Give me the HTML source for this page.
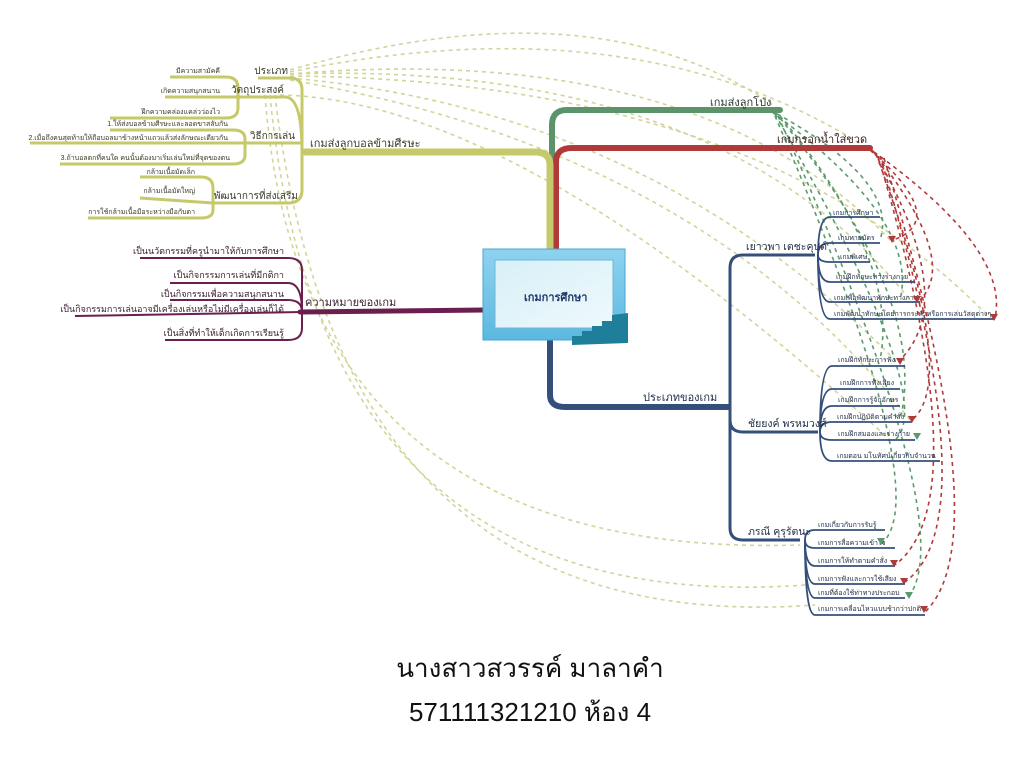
<!DOCTYPE html>
<html><head><meta charset="utf-8"><style>
html,body{margin:0;padding:0;background:#fff;}
svg{display:block;font-family:"Liberation Sans","Noto Sans CJK SC",sans-serif;}
</style></head><body>
<svg width="1024" height="768" viewBox="0 0 1024 768" xmlns="http://www.w3.org/2000/svg">
<defs>
<linearGradient id="fr" x1="0" y1="0" x2="0" y2="1"><stop offset="0" stop-color="#8fd3f0"/><stop offset="1" stop-color="#5bb8e0"/></linearGradient>
<linearGradient id="in" x1="0" y1="0" x2="1" y2="1"><stop offset="0" stop-color="#d8f0f8"/><stop offset="1" stop-color="#eef9fc"/></linearGradient>
</defs>
<!-- dashed relationship curves -->
<g fill="none" stroke-width="1.6" stroke-dasharray="4 4">
<g stroke="#d2d49a">
<path d="M290 70 Q600 -20 780 110"/>
<path d="M290 72 Q640 0 870 150"/>
<path d="M290 74 Q700 40 890 240"/>
<path d="M290 74 Q720 60 910 300"/>
<path d="M290 76 Q760 80 990 318"/>
<path d="M290 78 Q650 110 895 360"/>
<path d="M290 80 Q700 150 910 420"/>
<path d="M265 95 Q300 560 800 545"/>
<path d="M270 95 Q320 620 805 585"/>
<path d="M275 95 Q340 640 815 605"/>
<path d="M280 95 Q520 100 890 440"/>
</g>
<g stroke="#5b9a6d">
<path d="M770 110 Q900 180 880 240"/>
<path d="M772 112 Q920 220 900 300"/>
<path d="M775 112 Q930 300 900 420"/>
<path d="M775 114 Q940 400 895 440"/>
<path d="M775 116 Q940 500 880 545"/>
<path d="M778 116 Q960 520 910 595"/>
<path d="M780 116 Q900 260 880 360"/>
</g>
<g stroke="#b03a3a">
<path d="M870 150 Q950 220 893 240"/>
<path d="M872 150 Q960 260 920 300"/>
<path d="M874 152 Q1010 250 995 318"/>
<path d="M874 152 Q960 300 900 360"/>
<path d="M876 154 Q960 380 912 420"/>
<path d="M878 156 Q980 500 895 565"/>
<path d="M880 156 Q990 520 905 582"/>
<path d="M884 158 Q1000 540 925 612"/>
</g>
</g>
<!-- main branches -->
<g fill="none" stroke-linecap="round">
<path d="M552 250 L552 125 Q552 110 567 110 L780 110" stroke="#5b946a" stroke-width="6"/>
<path d="M556 250 L556 162 Q556 148 572 148 L870 148" stroke="#b0393a" stroke-width="6"/>
<path d="M550 250 L550 165 Q550 152 535 152 L305 152" stroke="#c6c96a" stroke-width="7"/>
<path d="M485 310 L300 312" stroke="#6a1f4f" stroke-width="5"/>
<path d="M550 338 L550 395 Q550 407 565 407 L728 407" stroke="#34507a" stroke-width="6"/>
</g>
<!-- yellow sub tree -->
<g fill="none" stroke="#c6c96a" stroke-width="3">
<path d="M302 152 L302 90 Q302 78 290 78 L258 78"/>
<path d="M302 152 Q302 97 285 97 L238 97"/>
<path d="M302 152 L302 143 L245 143"/>
<path d="M302 152 L302 190 Q302 203 288 203 L213 203"/>
<path d="M238 97 L238 88 Q238 77 226 77 L170 77"/>
<path d="M238 97 L165 97"/>
<path d="M238 97 L238 108 Q238 118 226 118 L110 118"/>
<path d="M245 143 L245 139 Q245 130 233 130 L110 130"/>
<path d="M245 143 L30 143"/>
<path d="M245 143 L245 155 Q245 164 233 164 L60 164"/>
<path d="M213 203 L213 188 Q213 177 201 177 L140 177"/>
<path d="M213 203 L140 198"/>
<path d="M213 203 L213 210 Q213 218 201 218 L88 218"/>
</g>
<g fill="#3a3a2a" text-anchor="end">
<text x="288" y="74" font-size="10">ประเภท</text>
<text x="284" y="93" font-size="10">วัตถุประสงค์</text>
<text x="295" y="139" font-size="10">วิธีการเล่น</text>
<text x="298" y="199" font-size="10">พัฒนาการที่ส่งเสริม</text>
<text x="220" y="73" font-size="7">มีความสามัคคี</text>
<text x="220" y="93" font-size="7">เกิดความสนุกสนาน</text>
<text x="220" y="114" font-size="7">ฝึกความคล่องแคล่วว่องไว</text>
<text x="228" y="126" font-size="7">1.ให้ส่งบอลข้ามศีรษะและลอดขาสลับกัน</text>
<text x="228" y="140" font-size="7">2.เมื่อถึงคนสุดท้ายให้ถือบอลมาข้างหน้าแถวแล้วส่งลักษณะเดียวกัน</text>
<text x="230" y="160" font-size="7">3.ถ้าบอลตกที่คนใด คนนั้นต้องมาเริ่มเล่นใหม่ที่จุดของตน</text>
<text x="195" y="174" font-size="7">กล้ามเนื้อมัดเล็ก</text>
<text x="195" y="193" font-size="7">กล้ามเนื้อมัดใหญ่</text>
<text x="195" y="214" font-size="7">การใช้กล้ามเนื้อมือระหว่างมือกับตา</text>
</g>
<text x="310" y="147" font-size="11" fill="#3a3a2a">เกมส่งลูกบอลข้ามศีรษะ</text>
<!-- purple subtree -->
<g fill="none" stroke="#6a1f4f" stroke-width="2">
<path d="M302 312 L302 270 Q302 258 288 258 L140 258"/>
<path d="M302 312 Q302 283 288 283 L170 283"/>
<path d="M302 312 Q302 300 288 300 L170 300"/>
<path d="M302 312 L75 316"/>
<path d="M302 312 L302 328 Q302 340 288 340 L165 340"/>
</g>
<g font-size="9" fill="#3a2030" text-anchor="end">
<text x="284" y="254">เป็นนวัตกรรมที่ครูนำมาให้กับการศึกษา</text>
<text x="284" y="278">เป็นกิจกรรมการเล่นที่มีกติกา</text>
<text x="284" y="297">เป็นกิจกรรมเพื่อความสนุกสนาน</text>
<text x="284" y="312">เป็นกิจกรรมการเล่นอาจมีเครื่องเล่นหรือไม่มีเครื่องเล่นก็ได้</text>
<text x="284" y="336">เป็นสิ่งที่ทำให้เด็กเกิดการเรียนรู้</text>
</g>
<text x="305" y="306" font-size="11" fill="#3a2030">ความหมายของเกม</text>
<!-- right labels -->
<text x="710" y="106" font-size="11" fill="#2a3a30">เกมส่งลูกโป่ง</text>
<text x="777" y="143" font-size="11" fill="#3a2020">เกมกรอกน้ำใส่ขวด</text>
<text x="643" y="401" font-size="11" fill="#22304a">ประเภทของเกม</text>
<!-- center box -->
<rect x="483" y="249" width="142" height="91" fill="url(#fr)" stroke="#4aa6d0"/>
<rect x="495" y="260" width="118" height="68" fill="url(#in)" stroke="#6fb7d6"/>
<text x="524" y="301" font-size="11" font-weight="bold" fill="#1f3a6a">เกมการศึกษา</text>
<path d="M572 345 L572 336 L582 336 L582 331 L592 331 L592 326 L602 326 L602 321 L612 321 L612 315 L628 313 L628 343 Z" fill="#1f7f9a"/>
<!-- blue subtree -->
<g fill="none" stroke="#34507a" stroke-width="3">
<path d="M730 407 L730 268 Q730 255 743 255 L815 255"/>
<path d="M730 407 L730 420 Q730 432 743 432 L818 432"/>
<path d="M730 407 L730 528 Q730 540 743 540 L800 540"/>
</g>
<g fill="none" stroke="#34507a" stroke-width="1.8">
<path d="M818 255 Q818 217 830 217 L880 217"/>
<path d="M818 255 Q818 243 830 243 L880 243"/>
<path d="M818 255 Q818 262 830 262 L870 262"/>
<path d="M818 255 Q818 282 830 282 L915 282"/>
<path d="M818 255 Q818 302 830 302 L920 302"/>
<path d="M818 255 Q818 319 830 319 L995 319"/>
<path d="M820 432 Q820 366 832 366 L905 366"/>
<path d="M820 432 Q820 389 832 389 L900 389"/>
<path d="M820 432 Q820 406 832 406 L900 406"/>
<path d="M820 432 Q820 422 832 422 L912 422"/>
<path d="M820 432 Q820 440 832 440 L915 440"/>
<path d="M820 432 Q820 461 832 461 L940 461"/>
<path d="M805 540 Q805 530 815 530 L885 530"/>
<path d="M805 540 Q805 548 815 548 L895 548"/>
<path d="M805 540 Q805 566 815 566 L895 566"/>
<path d="M805 540 Q805 584 815 584 L905 584"/>
<path d="M805 540 Q805 598 815 598 L905 598"/>
<path d="M805 540 Q805 615 815 615 L925 615"/>
</g>
<g font-size="10.5" fill="#22304a">
<text x="746" y="250">เยาวพา  เตชะคุปต์</text>
<text x="748" y="427">ชัยยงค์  พรหมวงศ์</text>
<text x="748" y="535">ภรณี  คุรุรัตนะ</text>
</g>
<g font-size="7" fill="#22304a">
<text x="833" y="215">เกมการศึกษา</text>
<text x="838" y="240">เกมทายบัตร</text>
<text x="840" y="259">เกมพิเศษ</text>
<text x="836" y="279">เกมฝึกทักษะทางร่างกาย</text>
<text x="834" y="300">เกมเพื่อพัฒนาทักษะทางภาษา</text>
<text x="834" y="316">เกมพัฒนาทักษะโดยการกระทำหรือการเล่นวัสดุต่างๆ</text>
<text x="838" y="362">เกมฝึกทักษะการฟัง</text>
<text x="840" y="385">เกมฝึกการฟังเสียง</text>
<text x="838" y="402">เกมฝึกการรู้จักอักษร</text>
<text x="837" y="419">เกมฝึกปฏิบัติตามคำสั่ง</text>
<text x="838" y="436">เกมฝึกสมองและร่างกาย</text>
<text x="837" y="458">เกมตอน มโนทัศน์เกี่ยวกับจำนวน</text>
<text x="818" y="527">เกมเกี่ยวกับการรับรู้</text>
<text x="818" y="545">เกมการสื่อความเข้าใจ</text>
<text x="818" y="563">เกมการให้ทำตามคำสั่ง</text>
<text x="818" y="581">เกมการฟังและการใช้เสียง</text>
<text x="818" y="595">เกมที่ต้องใช้ท่าทางประกอบ</text>
<text x="818" y="611">เกมการเคลื่อนไหวแบบช้ากว่าปกติ</text>
</g>
<!-- arrowheads -->
<g fill="#b0393a">
<path d="M888 236 l8 0 l-4 7z"/><path d="M913 296 l8 0 l-4 7z"/><path d="M990 314 l8 0 l-4 7z"/>
<path d="M896 358 l8 0 l-4 7z"/><path d="M908 416 l8 0 l-4 7z"/><path d="M890 560 l8 0 l-4 7z"/>
<path d="M900 578 l8 0 l-4 7z"/><path d="M920 606 l8 0 l-4 7z"/>
</g>
<g fill="#5b9a6d">
<path d="M877 538 l8 0 l-4 7z"/><path d="M913 433 l8 0 l-4 7z"/><path d="M905 592 l8 0 l-4 7z"/>
</g>
<!-- footer -->
<text x="530" y="677" font-size="26" text-anchor="middle" fill="#111">นางสาวสวรรค์  มาลาคำ</text>
<text x="530" y="721" font-size="26" text-anchor="middle" fill="#111">571111321210  ห้อง 4</text>
</svg>
</body></html>
